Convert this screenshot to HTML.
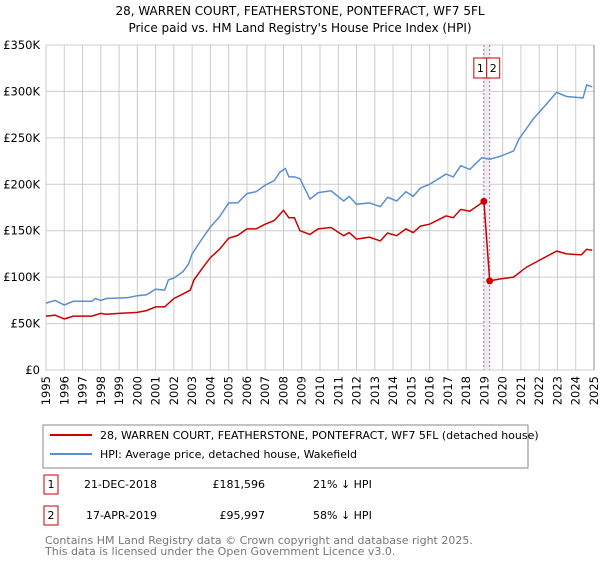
<!DOCTYPE html>
<html><head><meta charset="utf-8"><style>
body{margin:0;background:#fff;font-family:"DejaVu Sans","Liberation Sans",sans-serif;}
svg text{font-family:"DejaVu Sans","Liberation Sans",sans-serif;}
</style></head><body>
<svg id="c" width="600" height="560" xmlns="http://www.w3.org/2000/svg">
<text x="300" y="15" text-anchor="middle" font-size="12">28, WARREN COURT, FEATHERSTONE, PONTEFRACT, WF7 5FL</text>
<text x="300" y="32" text-anchor="middle" font-size="12">Price paid vs. HM Land Registry's House Price Index (HPI)</text>
<g id="grid"></g><g id="marks"></g><g id="axes"></g>
<rect x="43" y="425" width="485" height="43" fill="#fff" stroke="#888"/>
<line x1="50" y1="435" x2="92" y2="435" stroke="#cc0000" stroke-width="2"/>
<text x="100" y="439" font-size="11">28, WARREN COURT, FEATHERSTONE, PONTEFRACT, WF7 5FL (detached house)</text>
<line x1="50" y1="454" x2="92" y2="454" stroke="#5b8fd1" stroke-width="2"/>
<text x="100" y="458" font-size="11">HPI: Average price, detached house, Wakefield</text>
<g>
<rect x="44" y="475" width="14" height="19" fill="#fff" stroke="#cc0000"/>
<text x="51" y="488" font-size="11" text-anchor="middle">1</text>
<text x="157" y="488" font-size="11" text-anchor="end">21-DEC-2018</text>
<text x="265" y="488" font-size="11" text-anchor="end">£181,596</text>
<text x="313" y="488" font-size="11">21% ↓ HPI</text></g>
<g>
<rect x="44" y="506" width="14" height="19" fill="#fff" stroke="#cc0000"/>
<text x="51" y="519" font-size="11" text-anchor="middle">2</text>
<text x="157" y="519" font-size="11" text-anchor="end">17-APR-2019</text>
<text x="265" y="519" font-size="11" text-anchor="end">£95,997</text>
<text x="313" y="519" font-size="11">58% ↓ HPI</text></g>
<text x="45" y="544" font-size="11" fill="#777">Contains HM Land Registry data © Crown copyright and database right 2025.</text>
<text x="45" y="555" font-size="11" fill="#777">This data is licensed under the Open Government Licence v3.0.</text>
</svg>
<script>
const hpiYears=[1995,1995.5,1996,1996.5,1997.5,1997.7,1998,1998.3,1999,1999.5,2000,2000.5,2001,2001.5,2001.7,2002,2002.5,2002.8,2003,2003.5,2004,2004.5,2005,2005.5,2006,2006.5,2007,2007.5,2007.8,2008.1,2008.3,2008.6,2008.9,2009.45,2009.9,2010.6,2011.3,2011.6,2012,2012.7,2013.3,2013.7,2014.2,2014.7,2015.1,2015.5,2016,2016.9,2017.3,2017.7,2018.2,2018.85,2019.3,2019.85,2020.6,2020.9,2021.7,2022.2,2022.95,2023.5,2024.4,2024.6,2024.9];
const hpiValues=[72,75,70,74,74,77,75,77,77.5,78,80,81,87,86,97,99,106,114,125,140,154,165,180,180,190,192,199,204,213,217,208,208,206,184,191,193,182,187,178.5,180,176,186,182,192,187,196,200,211,208,220,216,228.5,227,230,236,249,271,282,299,294.5,293,307,305];
const propYears=[1995,1995.5,1996,1996.5,1997.5,1998,1998.3,1999,2000,2000.5,2001,2001.5,2002,2002.5,2002.9,2003.1,2003.5,2004,2004.5,2005,2005.5,2006,2006.5,2007,2007.5,2008,2008.3,2008.6,2008.9,2009.45,2009.9,2010.6,2011.3,2011.6,2012,2012.7,2013.3,2013.7,2014.2,2014.7,2015.1,2015.5,2016,2016.9,2017.3,2017.7,2018.2,2018.97,2019.29,2019.85,2020.6,2021.3,2022,2022.95,2023.5,2024.3,2024.6,2024.9];
const propValues=[58,59,55,58,58,61,60,61,62,64,68,68,77,82,86,97,108,121,130,142,145,152,152,157,161,172,164,164,150,146,152,153.5,144.6,148,141,143,139,147.5,144.6,152,148,155,157,166,164,173,171,181.596,95.997,98,100,110.7,118,128,125,124,130,129];
const saleYears=[2018.97,2019.29];
const saleValues=[181.596,95.997];
const saleLabels=["1","2"];
const yTicks=[0,50,100,150,200,250,300,350];
const yTickLabels=["£0","£50K","£100K","£150K","£200K","£250K","£300K","£350K"];
const xTicks=[];for(let y=1995;y<=2025;y++)xTicks.push(y);

const NS="http://www.w3.org/2000/svg";
const X0=46,X1=594,Y0=370,Y1=45;
const sx=v=>X0+(v-1995)/30*(X1-X0);
const sy=v=>Y0-v/350*(Y0-Y1);
function mk(t,a,p){const e=document.createElementNS(NS,t);for(const k in a)e.setAttribute(k,a[k]);p.appendChild(e);return e;}
const grid=document.getElementById('grid'),marks=document.getElementById('marks'),axes=document.getElementById('axes');
yTicks.forEach((v,i)=>{
 const l=mk('line',{x1:X0,x2:X1,y1:sy(v),y2:sy(v),stroke:'#ccc'},grid);
 
 
 const t=mk('text',{x:X0-6,y:sy(v)+4,'text-anchor':'end','font-size':'11.5'},axes);
 t.textContent=yTickLabels[i];
 
 
});
xTicks.forEach(v=>{
 const l=mk('line',{x1:sx(v),x2:sx(v),y1:Y1,y2:Y0,stroke:'#ccc'},grid);
 
 
 const t=mk('text',{x:0,y:0,'text-anchor':'end','font-size':'11.5',transform:`translate(${sx(v)+4},${Y0+6}) rotate(-90)`},axes);
 t.textContent=v;
 
 
});
const band=mk('rect',{x:sx(saleYears[0]),y:Y1,width:sx(saleYears[1])-sx(saleYears[0]),height:Y0-Y1,fill:'#e6eefa'},grid);


saleYears.forEach((v,i)=>{
 const l=mk('line',{x1:sx(v),x2:sx(v),y1:Y1,y2:Y0,stroke:'#e06060','stroke-dasharray':'2,2'},grid);
 
 
});
const pts=(xs,ys)=>xs.map((x,i)=>sx(x).toFixed(1)+','+sy(ys[i]).toFixed(1)).join(' ');
const hp=mk('polyline',{points:pts(hpiYears,hpiValues),fill:'none',stroke:'#5b8fd1','stroke-width':1.5},marks);


const pp=mk('polyline',{points:pts(propYears,propValues),fill:'none',stroke:'#cc0000','stroke-width':1.5},marks);


saleYears.forEach((v,i)=>{
 const c=mk('circle',{cx:sx(v),cy:sy(saleValues[i]),r:3.5,fill:'#cc0000'},marks);
 
 
});
saleYears.forEach((v,i)=>{
 const bx=i==0?sx(v)-10:sx(v)-3;
 const r=mk('rect',{x:bx,y:58,width:13,height:20,fill:'#fff',stroke:'#cc0000'},marks);
 
 
 const t=mk('text',{x:bx+6.5,y:72,'text-anchor':'middle','font-size':'11'},marks);
 t.textContent=saleLabels[i];
 
 
});
const ax=mk('line',{x1:X1,x2:X1,y1:Y1,y2:Y0,stroke:'#888'},axes);


</script>
</body></html>
